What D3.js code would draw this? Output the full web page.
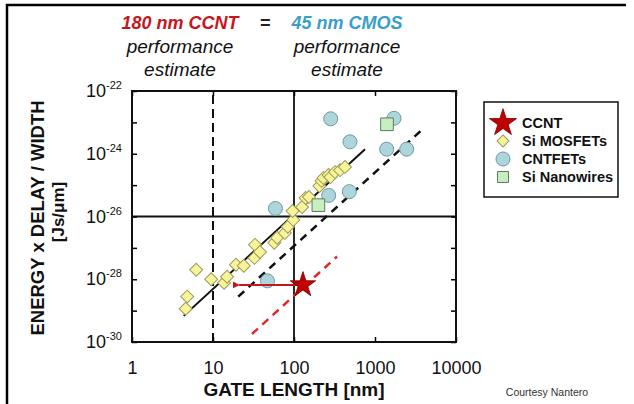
<!DOCTYPE html>
<html>
<head>
<meta charset="utf-8">
<script src="https://cdn.jsdelivr.net/npm/d3@7"></script>
<style>
  body { margin: 0; background: #fff; }
  svg { display: block; font-family: "Liberation Sans", Arial, sans-serif; }
</style>
</head>
<body>
<svg id="chart" width="634" height="404"></svg>
<script>
/****** Data ****************************/
// gate length [nm] and energy x delay / width [Js/um]
const mosfetGate = [4.6, 4.8, 6.2, 9.5, 13.7, 14.9, 19.2, 24, 32.5, 33, 38, 57, 62, 77, 84, 98, 96,
    126, 139, 153, 206, 219, 231, 267, 282, 321, 370, 426];
const mosfetEDW = [1.15e-29, 2.8e-29, 2.0e-28, 1.0e-28, 7.7e-29, 1.2e-28, 2.9e-28, 2.7e-28, 4.8e-28,
    1.25e-27, 7.4e-28, 1.45e-27, 2.1e-27, 3.0e-27, 4.7e-27, 7.8e-27, 1.5e-26, 2.0e-26, 3.9e-26,
    4.2e-26, 9.4e-26, 1.36e-25, 1.7e-25, 2.1e-25, 1.8e-25, 2.6e-25, 3.0e-25, 3.8e-25];

const cntfetGate = [284, 1717, 491, 1394, 2462, 268, 482, 59, 47];
const cntfetEDW = [1.3e-23, 1.35e-23, 2.4e-24, 1.4e-24, 1.4e-24, 4.7e-26, 6.2e-26, 1.8e-26, 8.9e-29];

const nanowireGate = [1406, 200];
const nanowireEDW = [8.7e-24, 2.3e-26];

const ccntGate = [129];
const ccntEDW = [6.6e-29];
const ccntArrowTo = [21];

// trend lines: [start, end]
const fitGate = [4.35, 753], fitEDW = [6.8e-30, 1.4e-24];
const cmosGate = [20.5, 3773], cmosEDW = [2.8e-29, 5.7e-24];
const ccntLineGate = [30.3, 340], ccntLineEDW = [1.8e-30, 5.3e-28];

// reference lines
const dashedGate = 10, solidGate = 100, solidEDW = 1e-26;

const xTicks = [1, 10, 100, 1000, 10000];
const yTicks = [1e-22, 1e-23, 1e-24, 1e-25, 1e-26, 1e-27, 1e-28, 1e-29, 1e-30];
const yLabelExps = [-22, -24, -26, -28, -30];

const legendNames = ["CCNT", "Si MOSFETs", "CNTFETs", "Si Nanowires"];

/****** Styles *******/
const red = "#c8141c", blue = "#3a9fc6";
const diamondFill = "#f8f49a", diamondStroke = "#9c9a5a";
const circleFill = "#acd6dc", circleStroke = "#6f97a0";
const squareFill = "#c6efc0", squareStroke = "#5e7a5e";

/****** Chart *******/
var svg = d3.select("#chart");
var margin = {top: 91, right: 178, bottom: 62, left: 132};
var width = 634 - margin.left - margin.right;
var height = 404 - margin.top - margin.bottom;

var x = d3.scaleLog().domain([1, 10000]).range([margin.left, margin.left + width]);
var y = d3.scaleLog().domain([1e-30, 1e-22]).range([margin.top + height, margin.top]);

// outer frame (top and left edge of the slide)
svg.append("path")
    .attr("d", "M7,404 V5 H626")
    .attr("fill", "none")
    .attr("stroke", "#000")
    .attr("stroke-width", 2.5);

// title
var title = svg.append("g").attr("font-style", "italic");
title.append("text").attr("x", 180).attr("y", 29).attr("text-anchor", "middle")
    .attr("font-weight", "bold").attr("font-size", 18).attr("fill", red).text("180 nm CCNT");
title.append("text").attr("x", 265).attr("y", 29).attr("text-anchor", "middle")
    .attr("font-weight", "bold").attr("font-size", 18).attr("fill", "#222").text("=");
title.append("text").attr("x", 347).attr("y", 29).attr("text-anchor", "middle")
    .attr("font-weight", "bold").attr("font-size", 18).attr("fill", blue).text("45 nm CMOS");
[180, 347].forEach(function (cx) {
    title.append("text").attr("x", cx).attr("y", 53).attr("text-anchor", "middle")
        .attr("font-size", 19).attr("fill", "#111").text("performance");
    title.append("text").attr("x", cx).attr("y", 76).attr("text-anchor", "middle")
        .attr("font-size", 19).attr("fill", "#111").text("estimate");
});

var plot = svg.append("g");

// reference lines
plot.append("line")
    .attr("x1", x(dashedGate)).attr("x2", x(dashedGate))
    .attr("y1", y.range()[0]).attr("y2", y.range()[1])
    .attr("stroke", "#111").attr("stroke-width", 2).attr("stroke-dasharray", "9,5");
plot.append("line")
    .attr("x1", x(solidGate)).attr("x2", x(solidGate))
    .attr("y1", y.range()[0]).attr("y2", y.range()[1])
    .attr("stroke", "#111").attr("stroke-width", 1.8);
plot.append("line")
    .attr("x1", x.range()[0]).attr("x2", x.range()[1])
    .attr("y1", y(solidEDW)).attr("y2", y(solidEDW))
    .attr("stroke", "#111").attr("stroke-width", 1.8);

var line = d3.line()
    .x(function (d) { return x(d[0]); })
    .y(function (d) { return y(d[1]); });

plot.append("path")
    .datum(d3.zip(fitGate, fitEDW))
    .attr("fill", "none").attr("stroke", "#111").attr("stroke-width", 2)
    .attr("d", line);
plot.append("path")
    .datum(d3.zip(cmosGate, cmosEDW))
    .attr("fill", "none").attr("stroke", "#111").attr("stroke-width", 2.5)
    .attr("stroke-dasharray", "8,6")
    .attr("d", line);
plot.append("path")
    .datum(d3.zip(ccntLineGate, ccntLineEDW))
    .attr("fill", "none").attr("stroke", "#e02828").attr("stroke-width", 2.5)
    .attr("stroke-dasharray", "8,6")
    .attr("d", line);

// markers
var diamond = d3.symbol().type(d3.symbolSquare).size(84);
plot.selectAll(".mosfet")
    .data(d3.zip(mosfetGate, mosfetEDW))
    .enter().append("path")
    .attr("class", "mosfet")
    .attr("d", diamond)
    .attr("transform", function (d) { return "translate(" + x(d[0]) + "," + y(d[1]) + ") rotate(45)"; })
    .attr("fill", diamondFill).attr("stroke", diamondStroke).attr("stroke-width", 1);

plot.selectAll(".cntfet")
    .data(d3.zip(cntfetGate, cntfetEDW))
    .enter().append("circle")
    .attr("class", "cntfet")
    .attr("cx", function (d) { return x(d[0]); })
    .attr("cy", function (d) { return y(d[1]); })
    .attr("r", 7)
    .attr("fill", circleFill).attr("stroke", circleStroke).attr("stroke-width", 1);

var square = d3.symbol().type(d3.symbolSquare).size(160);
plot.selectAll(".nanowire")
    .data(d3.zip(nanowireGate, nanowireEDW))
    .enter().append("path")
    .attr("class", "nanowire")
    .attr("d", square)
    .attr("transform", function (d) { return "translate(" + x(d[0]) + "," + y(d[1]) + ")"; })
    .attr("fill", squareFill).attr("stroke", squareStroke).attr("stroke-width", 1);

// CCNT arrow and star
svg.append("defs").append("marker")
    .attr("id", "arrow")
    .attr("viewBox", "0 0 10 10")
    .attr("refX", 1).attr("refY", 5)
    .attr("markerWidth", 3.5).attr("markerHeight", 3.5)
    .attr("orient", "auto")
    .append("path")
    .attr("d", "M10,0 L0,5 L10,10 z")
    .attr("fill", red);

plot.selectAll(".ccntArrow")
    .data(d3.zip(ccntGate, ccntEDW, ccntArrowTo))
    .enter().append("line")
    .attr("x1", function (d) { return x(d[0]); })
    .attr("x2", function (d) { return x(d[2]); })
    .attr("y1", function (d) { return y(d[1]); })
    .attr("y2", function (d) { return y(d[1]); })
    .attr("stroke", red).attr("stroke-width", 2)
    .attr("marker-end", "url(#arrow)");

var star = d3.symbol().type(d3.symbolStar).size(200);
plot.selectAll(".ccnt")
    .data(d3.zip(ccntGate, ccntEDW))
    .enter().append("path")
    .attr("d", star)
    .attr("transform", function (d) { return "translate(" + x(d[0]) + "," + y(d[1]) + ")"; })
    .attr("fill", "#c00000").attr("stroke", "#700").attr("stroke-width", 0.8);

// axes with inward ticks
var axes = svg.append("g").attr("font-size", 18);

axes.append("g")
    .attr("transform", "translate(0," + y.range()[0] + ")")
    .call(d3.axisBottom(x).tickValues(xTicks).tickSize(-5).tickPadding(19).tickFormat(d3.format("d")))
    .call(function (g) {
        g.select(".domain").remove();
        g.selectAll("text").attr("font-size", 18).attr("fill", "#111")
            .attr("font-family", "'Liberation Sans', Arial, sans-serif");
        g.selectAll("line").attr("stroke-width", 1.5);
    });
axes.append("g")
    .attr("transform", "translate(0," + y.range()[1] + ")")
    .call(d3.axisTop(x).tickValues(xTicks).tickSize(-5).tickFormat(""))
    .call(function (g) {
        g.select(".domain").remove();
        g.selectAll("line").attr("stroke-width", 1.5);
    });
axes.append("g")
    .attr("transform", "translate(" + x.range()[0] + ",0)")
    .call(d3.axisLeft(y).tickValues(yTicks).tickSize(-5).tickFormat(""))
    .call(function (g) {
        g.select(".domain").remove();
        g.selectAll("line").attr("stroke-width", 1.5);
    });
axes.append("g")
    .attr("transform", "translate(" + x.range()[1] + ",0)")
    .call(d3.axisRight(y).tickValues(yTicks).tickSize(-5).tickFormat(""))
    .call(function (g) {
        g.select(".domain").remove();
        g.selectAll("line").attr("stroke-width", 1.5);
    });

// frame
svg.append("rect")
    .attr("x", x.range()[0]).attr("y", y.range()[1])
    .attr("width", width).attr("height", height)
    .attr("fill", "none").attr("stroke", "#111").attr("stroke-width", 2);

// y tick labels 10^n
var yLab = svg.selectAll(".ylab")
    .data(yLabelExps)
    .enter().append("text")
    .attr("class", "ylab")
    .attr("x", 122)
    .attr("y", function (d) { return y(Math.pow(10, d)) + 6; })
    .attr("text-anchor", "end")
    .attr("fill", "#111");
yLab.append("tspan").attr("font-size", 18).text("10");
yLab.append("tspan").attr("font-size", 11).attr("dy", -8).text(function (d) { return d; });

// axis titles
svg.append("text")
    .attr("x", 294).attr("y", 396)
    .attr("text-anchor", "middle")
    .attr("font-size", 19).attr("font-weight", "bold").attr("fill", "#111")
    .text("GATE LENGTH [nm]");

svg.append("text")
    .attr("transform", "translate(44," + 218 + ") rotate(-90)")
    .attr("text-anchor", "middle")
    .attr("font-size", 18.5).attr("font-weight", "bold").attr("fill", "#111")
    .text("ENERGY x DELAY / WIDTH");
svg.append("text")
    .attr("transform", "translate(64," + 212 + ") rotate(-90)")
    .attr("text-anchor", "middle")
    .attr("font-size", 17).attr("font-weight", "bold").attr("fill", "#111")
    .text("[Js/\u03bcm]");

svg.append("text")
    .attr("x", 547).attr("y", 396)
    .attr("text-anchor", "middle")
    .attr("font-size", 10.5).attr("fill", "#333")
    .text("Courtesy Nantero");

/****** Legend *******/
var legend = svg.append("g").attr("transform", "translate(484,102)");
legend.append("rect")
    .attr("width", 134).attr("height", 95)
    .attr("fill", "#fff").attr("stroke", "#111").attr("stroke-width", 1.5);

var rows = legend.selectAll(".row")
    .data(legendNames)
    .enter().append("g")
    .attr("transform", function (d, i) { return "translate(0," + (21 + i * 18) + ")"; });

rows.append("text")
    .attr("x", 38).attr("y", 5)
    .attr("font-size", 14.5).attr("font-weight", "bold").attr("fill", "#111")
    .text(function (d) { return d; });

rows.each(function (d, i) {
    var r = d3.select(this);
    if (i === 0) {
        r.append("path").attr("d", d3.symbol().type(d3.symbolStar).size(230))
            .attr("transform", "translate(19,0)")
            .attr("fill", "#c00000").attr("stroke", "#700").attr("stroke-width", 0.8);
    } else if (i === 1) {
        r.append("path").attr("d", d3.symbol().type(d3.symbolSquare).size(72))
            .attr("transform", "translate(19,0) rotate(45)")
            .attr("fill", diamondFill).attr("stroke", diamondStroke);
    } else if (i === 2) {
        r.append("circle").attr("cx", 19).attr("r", 7)
            .attr("fill", circleFill).attr("stroke", circleStroke);
    } else {
        r.append("path").attr("d", d3.symbol().type(d3.symbolSquare).size(120))
            .attr("transform", "translate(19,0)")
            .attr("fill", squareFill).attr("stroke", squareStroke);
    }
});
</script>
</body>
</html>
